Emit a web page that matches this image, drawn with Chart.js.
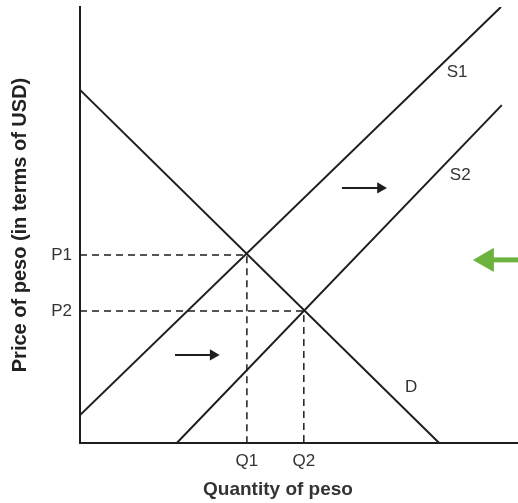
<!DOCTYPE html>
<html>
<head>
<meta charset="utf-8">
<script src="https://cdn.jsdelivr.net/npm/chart.js@4"></script>
<style>
  html, body { margin: 0; padding: 0; background: #fff; }
  #wrap { width: 518px; height: 503px; }
</style>
</head>
<body>
<div id="wrap"><canvas id="supplyChart"></canvas></div>
<script>
// curve end points (chart units, 0-100 on both axes)
const supply1 = [{ x: 0, y: 6.4 }, { x: 96.1, y: 100 }];
const supply2 = [{ x: 22.1, y: 0 }, { x: 96.3, y: 77.5 }];
const demand = [{ x: 0, y: 81 }, { x: 82, y: 0 }];

// equilibrium ticks
const priceLabels = ['P1', 'P2'];
const priceValues = [43.1, 30.3];
const qtyLabels = ['Q1', 'Q2'];
const qtyValues = [38.1, 51.1];

// shift arrows: tail and head
const arrowUpper = [{ x: 59.8, y: 58.5 }, { x: 68.6, y: 58.5 }];
const arrowLower = [{ x: 21.7, y: 20.2 }, { x: 30.4, y: 20.2 }];
const arrowGreen = [{ x: 100, y: 42.0 }, { x: 92.9, y: 42.0 }];

const curveNames = ['S1', 'S2', 'D'];

const ink = '#1e1e1e';
const green = '#6cb33e';

function solid(data) {
  return { data: data, showLine: true, borderColor: ink, borderWidth: 2, pointRadius: 0 };
}

function dashed(i) {
  return {
    data: [{ x: 0, y: priceValues[i] }, { x: qtyValues[i], y: priceValues[i] }, { x: qtyValues[i], y: 0 }],
    showLine: true, borderColor: ink, borderWidth: 1.5, borderDash: [7, 5], pointRadius: 0
  };
}

function arrow(data, color, width, size, rot) {
  return {
    data: data, showLine: true, borderColor: color, borderWidth: width,
    pointRadius: [0, size], pointStyle: 'triangle', rotation: rot,
    pointBackgroundColor: color, pointBorderColor: color, pointBorderWidth: 0, clip: false
  };
}

const curveLabelPlugin = {
  id: 'curveLabels',
  afterDatasetsDraw(chart) {
    const { ctx, scales: { x, y }, chartArea } = chart;
    const spots = [[86.1, 85.1], [86.8, 61.5], [75.6, 12.8]];
    ctx.save();
    ctx.fillStyle = '#333';
    ctx.textAlign = 'center';
    ctx.textBaseline = 'middle';
    ctx.font = '17px "Liberation Sans", Arial, sans-serif';
    curveNames.forEach((name, i) => {
      ctx.fillText(name, x.getPixelForValue(spots[i][0]), y.getPixelForValue(spots[i][1]));
    });
    ctx.font = 'bold 19px "Liberation Sans", Arial, sans-serif';
    ctx.fillText('Quantity of peso', chartArea.left + 198, chart.height - 13);
    ctx.restore();
  }
};

const tickFont = { family: '"Liberation Sans", Arial, sans-serif', size: 17 };

function noEdgePadding(s) {
  s.paddingTop = 0;
  s.paddingBottom = 0;
  s.paddingLeft = 0;
  s.paddingRight = 0;
}

const ctx = document.getElementById('supplyChart').getContext('2d');
const myChart = new Chart(ctx, {
  type: 'scatter',
  data: {
    datasets: [
      solid(supply1),
      solid(supply2),
      solid(demand),
      dashed(0),
      dashed(1),
      arrow(arrowUpper, ink, 2, 6.5, 90),
      arrow(arrowLower, ink, 2, 6.5, 90),
      arrow(arrowGreen, green, 5, 14, -90)
    ]
  },
  options: {
    responsive: true,
    maintainAspectRatio: false,
    animation: false,
    layout: { autoPadding: false, padding: { top: 7, right: 0, left: 0, bottom: 0 } },
    plugins: { legend: { display: false }, tooltip: { enabled: false } },
    scales: {
      x: {
        type: 'linear', min: 0, max: 100,
        grid: { display: false, drawTicks: false },
        border: { display: true, color: ink, width: 2 },
        afterBuildTicks: (s) => { s.ticks = qtyValues.map(v => ({ value: v })); },
        afterFit: (s) => { s.height = 60; noEdgePadding(s); },
        ticks: {
          autoSkip: false, maxRotation: 0, padding: 8, color: '#333', font: tickFont,
          callback: (v) => qtyLabels[qtyValues.indexOf(v)]
        }
      },
      y: {
        type: 'linear', min: 0, max: 100,
        grid: { display: false, drawTicks: false },
        border: { display: true, color: ink, width: 2 },
        afterBuildTicks: (s) => { s.ticks = priceValues.map(v => ({ value: v })); },
        afterFit: (s) => { s.width = 80; noEdgePadding(s); },
        ticks: {
          autoSkip: false, padding: 8, color: '#333', font: tickFont,
          callback: (v) => priceLabels[priceValues.indexOf(v)]
        },
        title: {
          display: true, text: 'Price of peso (in terms of USD)', color: '#222',
          font: { family: '"Liberation Sans", Arial, sans-serif', size: 20, weight: 'bold' },
          padding: { top: 8, bottom: 0 }
        }
      }
    }
  },
  plugins: [curveLabelPlugin]
});
</script>
</body>
</html>
